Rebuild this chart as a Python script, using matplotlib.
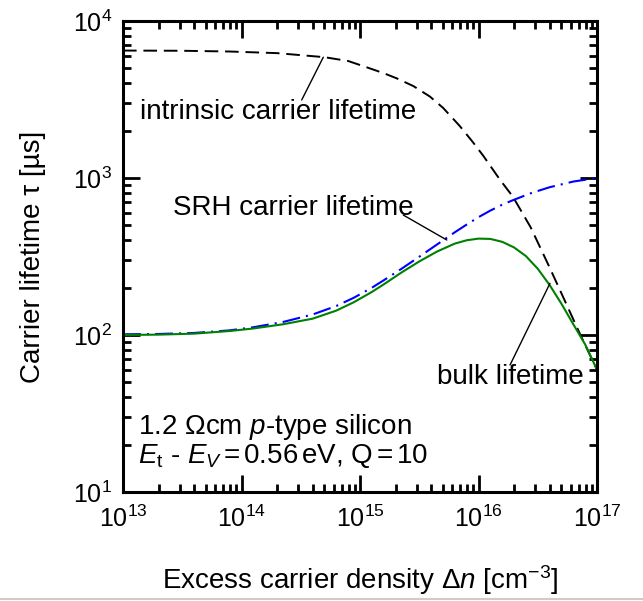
import matplotlib
matplotlib.use("Agg")
import matplotlib.pyplot as plt
from matplotlib.lines import Line2D
from matplotlib.ticker import LogLocator, LogFormatterSciNotation, NullFormatter

plt.rcParams["font.family"] = ["Liberation Sans", "DejaVu Sans"]
plt.rcParams["mathtext.fontset"] = "custom"
plt.rcParams["mathtext.rm"] = "Liberation Sans"
plt.rcParams["mathtext.it"] = "Liberation Sans:italic"
plt.rcParams["mathtext.bf"] = "Liberation Sans:bold"

# curve data (x as log10 of excess carrier density)
intr_logx = [13.0, 13.5, 13.9, 14.3, 14.7, 14.9, 15.03, 15.2, 15.31, 15.45,
             15.59, 15.7, 15.84, 15.95, 16.04, 16.18, 16.29, 16.44, 16.6,
             16.74, 16.86, 17.0]
intr_tau = [6480, 6460, 6390, 6240, 5880, 5560, 5150, 4650, 4310, 3850,
            3300, 2800, 2150, 1700, 1385, 977, 760, 485, 269,
            158, 100, 60]

srh_logx = [13.0, 13.3, 13.6, 13.9, 14.1, 14.35, 14.6, 14.8, 14.95, 15.1,
            15.2, 15.35, 15.5, 15.65, 15.8, 15.9, 16.0, 16.1, 16.2, 16.3,
            16.45, 16.6, 16.8, 17.0]
srh_tau = [101, 101.5, 103, 107, 112, 121, 135, 153, 173, 200,
           223, 264, 315, 377, 451, 505, 563, 620, 676, 727,
           804, 873, 949, 1000]

bulk_logx = [13.0, 13.3, 13.6, 13.9, 14.1, 14.35, 14.6, 14.8, 14.95, 15.1,
             15.2, 15.35, 15.5, 15.65, 15.8, 15.9, 16.0, 16.1, 16.2, 16.3,
             16.4, 16.5, 16.6, 16.7, 16.8, 16.9, 17.0]
bulk_tau = [100, 100.5, 102, 106, 110, 117, 127, 143, 162, 188,
            210, 250, 294, 340, 382, 401, 411, 409, 392, 361,
            318, 264, 208, 158, 117, 87, 60]

intr_x = [10 ** v for v in intr_logx]
srh_x = [10 ** v for v in srh_logx]
bulk_x = [10 ** v for v in bulk_logx]

fig = plt.figure(figsize=(6.43, 6.01), dpi=100)
ax = fig.add_axes([0.1913, 0.1814, 0.7372, 0.7837])

ax.plot(intr_x, intr_tau, color="black", lw=1.4, dashes=(7, 3.5))
ax.plot(srh_x, srh_tau, color="#0000ff", lw=1.5, dashes=(8.6, 2.9, 1, 2.9))
ax.plot(bulk_x, bulk_tau, color="#008000", lw=1.5)

ax.set_xscale("log")
ax.set_yscale("log")
ax.set_xlim(1e13, 1e17)
ax.set_ylim(10, 1e4)

for axis in (ax.xaxis, ax.yaxis):
    axis.set_major_locator(LogLocator(base=10, numticks=10))
    axis.set_minor_locator(LogLocator(base=10, subs=range(2, 10), numticks=10))
    axis.set_major_formatter(LogFormatterSciNotation())
    axis.set_minor_formatter(NullFormatter())

ax.tick_params(which="both", direction="in", top=True, right=True, width=2.0)
ax.tick_params(which="major", length=12, labelsize=18)
ax.tick_params(which="minor", length=6)
ax.tick_params(axis="x", which="major", pad=10)
ax.tick_params(axis="y", which="major", pad=8)
for sp in ax.spines.values():
    sp.set_linewidth(2.2)

ax.set_xlabel("Excess carrier density Δ$n$ [cm$^{\\mathrm{-3}}$]", fontsize=20, labelpad=22)
ax.set_ylabel("Carrier lifetime τ [µs]", fontsize=20, labelpad=19)

# annotations with leader lines
lead = dict(arrowstyle="-", color="black", lw=1.0, shrinkA=0, shrinkB=0)
ax.text(10 ** 13.14, 10 ** 3.42, "intrinsic carrier lifetime", fontsize=20,
        ha="left", va="center")
ax.annotate("", xy=(10 ** 14.69, 10 ** 3.769), xytext=(10 ** 14.508, 10 ** 3.497),
            arrowprops=lead)

ax.text(10 ** 15.45, 10 ** 2.81, "SRH carrier lifetime", fontsize=20,
        ha="right", va="center")
ax.annotate("", xy=(10 ** 15.732, 10 ** 2.605), xytext=(10 ** 15.365, 10 ** 2.764),
            arrowprops=lead)

ax.text(10 ** 15.65, 10 ** 1.735, "bulk lifetime", fontsize=20,
        ha="left", va="center")
ax.annotate("", xy=(10 ** 16.603, 10 ** 2.329), xytext=(10 ** 16.266, 10 ** 1.809),
            arrowprops=lead)

ax.text(10 ** 13.13, 10 ** 1.416, "1.2 Ωcm $p$-type silicon", fontsize=20,
        ha="left", va="center")
ax.text(10 ** 13.13, 10 ** 1.229, "$E_\\mathrm{t}$ - $E_V$$\\,$=$\\,$0.56$\\,$eV, Q$\\,$=$\\,$10",
        fontsize=20, ha="left", va="center")

# thin grey rule along the bottom edge
fig.add_artist(Line2D([0, 1], [0.003, 0.003], color="#cccccc", lw=1.5))

fig.savefig("out.png", dpi=100)
